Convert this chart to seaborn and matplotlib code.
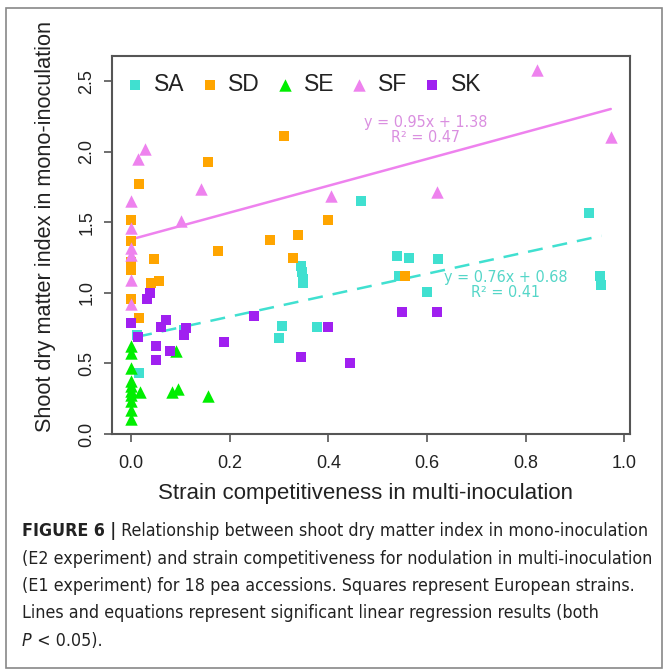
import matplotlib
matplotlib.use("Agg")
import matplotlib.pyplot as plt
import matplotlib.font_manager as fm
from matplotlib.font_manager import FontProperties
import seaborn as sns
import numpy as np
import pandas as pd

# ---------------- data ----------------
sa_x = [0.012, 0.015, 0.108, 0.300, 0.306, 0.344, 0.347, 0.349, 0.349, 0.377, 0.467,
        0.540, 0.544, 0.564, 0.601, 0.623, 0.929, 0.951, 0.954]
sa_y = [0.70, 0.43, 0.74, 0.684, 0.767, 1.19, 1.15, 1.10, 1.07, 0.76, 1.65,
        1.264, 1.12, 1.25, 1.01, 1.24, 1.57, 1.12, 1.057]

sd_x = [0.0, 0.0, 0.0, 0.0, 0.0, 0.015, 0.015, 0.046, 0.040, 0.057, 0.155, 0.176,
        0.282, 0.310, 0.329, 0.339, 0.400, 0.555]
sd_y = [1.52, 1.37, 1.22, 1.16, 0.96, 1.77, 0.825, 1.24, 1.07, 1.087, 1.93, 1.30,
        1.375, 2.11, 1.245, 1.41, 1.52, 1.12]

se_x = [0.0, 0.0, 0.0, 0.0, 0.0, 0.0, 0.0, 0.0, 0.0, 0.0,
        0.017, 0.083, 0.095, 0.156, 0.091]
se_y = [0.627, 0.573, 0.467, 0.373, 0.337, 0.302, 0.279, 0.231, 0.173, 0.107,
        0.295, 0.295, 0.319, 0.267, 0.585]

sf_x = [0.0, 0.0, 0.0, 0.0, 0.0, 0.0, 0.013, 0.028, 0.100, 0.142, 0.406, 0.621,
        0.824, 0.973]
sf_y = [1.65, 1.46, 1.32, 1.27, 1.09, 0.92, 1.95, 2.02, 1.51, 1.74, 1.69, 1.716,
        2.58, 2.105]

sk_x = [0.0, 0.014, 0.032, 0.039, 0.050, 0.050, 0.060, 0.071, 0.079, 0.107, 0.112,
        0.189, 0.249, 0.344, 0.400, 0.444, 0.550, 0.621]
sk_y = [0.786, 0.69, 0.955, 1.00, 0.627, 0.526, 0.757, 0.81, 0.59, 0.70, 0.75,
        0.65, 0.837, 0.545, 0.76, 0.50, 0.868, 0.868]

strains = ["SA", "SD", "SE", "SF", "SK"]
colors = {"SA": "#40E0D0", "SD": "#FFA500", "SE": "#00EE00", "SF": "#EE82EE", "SK": "#A020F0"}
markers = {"SA": "s", "SD": "s", "SE": "^", "SF": "^", "SK": "s"}

# regression equations (as printed on the chart)
fit_sf = (0.95, 1.38, 0.47)
fit_sa = (0.76, 0.68, 0.41)

xlabel = "Strain competitiveness in multi-inoculation"
ylabel = "Shoot dry matter index in mono-inoculation"
xticks = [0.0, 0.2, 0.4, 0.6, 0.8, 1.0]
yticks = [0.0, 0.5, 1.0, 1.5, 2.0, 2.5]

caption_bold = "FIGURE 6 |"
caption_lines = [
    " Relationship between shoot dry matter index in mono-inoculation",
    "(E2 experiment) and strain competitiveness for nodulation in multi-inoculation",
    "(E1 experiment) for 18 pea accessions. Squares represent European strains.",
    "Lines and equations represent significant linear regression results (both",
]
caption_italic = "P"
caption_last = " < 0.05)."

# ---------------- build frame ----------------
frames = []
for name, xs, ys in [("SA", sa_x, sa_y), ("SD", sd_x, sd_y), ("SE", se_x, se_y),
                     ("SF", sf_x, sf_y), ("SK", sk_x, sk_y)]:
    frames.append(pd.DataFrame({"x": xs, "y": ys, "strain": name}))
df = pd.concat(frames, ignore_index=True)

sns.set_theme(style="white")
plt.rcParams["font.family"] = ["Liberation Sans", "DejaVu Sans"]

# pick a condensed/narrow sans font for the caption if one is installed
def find_condensed(weight_bold=False, italic=False):
    best = None
    for f in fm.fontManager.ttflist:
        nm = (f.name + " " + f.fname).lower()
        if ("condensed" in nm or "narrow" in nm or str(f.stretch) in ("condensed", "semi-condensed")) \
                and "sans" in nm and "mono" not in nm and "serif" not in nm.replace("sans", ""):
            isbold = (f.weight in ("bold", 700) or (isinstance(f.weight, int) and f.weight >= 600)
                      or "bold" in f.fname.lower())
            isit = f.style in ("italic", "oblique") or "oblique" in f.fname.lower() or "italic" in f.fname.lower()
            if isbold == weight_bold and isit == italic:
                if best is None or "liberation" in nm:
                    best = f.fname
    return best

reg_f = find_condensed(False, False)
if reg_f:
    fp_reg = FontProperties(fname=reg_f)
    bf = find_condensed(True, False)
    fp_bold = FontProperties(fname=bf) if bf else FontProperties(fname=reg_f, weight="bold")
    itf = find_condensed(False, True)
    fp_it = FontProperties(fname=itf) if itf else FontProperties(fname=reg_f, style="italic")
else:
    fp_reg = FontProperties(family="Liberation Sans")
    fp_bold = FontProperties(family="Liberation Sans", weight="bold")
    fp_it = FontProperties(family="Liberation Sans", style="italic")

W, H = 668, 672
fig = plt.figure(figsize=(W / 100, H / 100), dpi=100)
ax = fig.add_axes([112 / W, 1 - 434 / H, (630 - 112) / W, (434 - 56) / H])

sizes = {"SA": 55, "SD": 55, "SE": 80, "SF": 80, "SK": 55}
for s in strains:
    sub = df[df.strain == s]
    sns.scatterplot(data=sub, x="x", y="y", ax=ax, color=colors[s], marker=markers[s],
                    s=sizes[s], linewidth=0, label=s, zorder=3)

# regression lines
for s, (a, b, r2), ls in [("SF", fit_sf, "-"), ("SA", fit_sa, (0, (6, 4)))]:
    sub = df[df.strain == s]
    xr = np.array([sub.x.min(), sub.x.max()])
    ax.plot(xr, a * xr + b, color=colors[s], lw=1.8, linestyle=ls, zorder=2)

eq_fp = fp_reg.copy()
eq_fp.set_size(11.5)
ax.text(0.598, 2.205, f"y = {fit_sf[0]:.2f}x + {fit_sf[1]:.2f}", color="#DA8FE0",
        ha="center", va="center", fontproperties=eq_fp)
ax.text(0.598, 2.100, f"R² = {fit_sf[2]:.2f}", color="#DA8FE0",
        ha="center", va="center", fontproperties=eq_fp)
ax.text(0.76, 1.108, f"y = {fit_sa[0]:.2f}x + {fit_sa[1]:.2f}", color="#55D6C8",
        ha="center", va="center", fontproperties=eq_fp)
ax.text(0.76, 1.003, f"R² = {fit_sa[2]:.2f}", color="#55D6C8",
        ha="center", va="center", fontproperties=eq_fp)

ax.set_xlim(-0.039, 1.012)
ax.set_ylim(0.0, 2.68)
ax.set_xticks(xticks)
ax.set_yticks(yticks)
ax.set_xticklabels([f"{t:.1f}" for t in xticks], fontsize=13, color="#222222")
ax.set_yticklabels([f"{t:.1f}" for t in yticks], fontsize=13, color="#222222",
                   rotation=90, va="center")
ax.tick_params(axis="x", which="both", direction="out", length=6, width=1.2,
               color="#555555", bottom=True, pad=9)
ax.tick_params(axis="y", which="both", direction="out", length=6, width=1.2,
               color="#555555", left=True, pad=6)
ax.set_xlabel(xlabel, fontsize=16, color="#222222")
ax.set_ylabel(ylabel, fontsize=15.6, color="#222222")
ax.xaxis.set_label_coords(0.489, (434 - 494) / 378.0)
ax.yaxis.set_label_coords((46 - 112) / 518.0, 0.548)
ax.xaxis.label.set_va("center")
ax.yaxis.label.set_va("center")
for sp in ax.spines.values():
    sp.set_color("#555555")
    sp.set_linewidth(1.5)

leg = ax.legend(loc="upper left", ncol=5, frameon=False, fontsize=16.5,
                handlelength=0.95, handletextpad=0.35, columnspacing=0.6,
                borderaxespad=0.15, bbox_to_anchor=(0.0, 0.988), markerscale=1.0)
for t in leg.get_texts():
    t.set_color("#222222")

# outer frame
fig.patches.append(plt.Rectangle((6 / W, 4 / H), (662 - 6) / W, (668 - 8) / H,
                                 transform=fig.transFigure, fill=False,
                                 edgecolor="#888888", lw=1.2))

# caption: fit the longest line to the reference width
fig.canvas.draw()
renderer = fig.canvas.get_renderer()
probe_fp = fp_reg.copy()
probe_fp.set_size(14.5)
probe = fig.text(0, 0, caption_lines[1], fontproperties=probe_fp)
wprobe = probe.get_window_extent(renderer).width
probe.remove()
cap_size = min(15.5, 14.5 * 626.0 / wprobe)
for fp in (fp_reg, fp_bold, fp_it):
    fp.set_size(cap_size)

x0 = 22 / W
ys = [531, 559, 586, 613, 641]
tb = fig.text(x0, 1 - ys[0] / H, caption_bold, fontproperties=fp_bold,
              va="center", ha="left", color="#222222")
bb = tb.get_window_extent(renderer)
fig.text(bb.x1 / W, 1 - ys[0] / H, caption_lines[0], fontproperties=fp_reg,
         va="center", ha="left", color="#222222")
for i in range(1, 4):
    fig.text(x0, 1 - ys[i] / H, caption_lines[i], fontproperties=fp_reg,
             va="center", ha="left", color="#222222")
tp = fig.text(x0, 1 - ys[4] / H, caption_italic, fontproperties=fp_it,
              va="center", ha="left", color="#222222")
bp = tp.get_window_extent(renderer)
fig.text(bp.x1 / W, 1 - ys[4] / H, caption_last, fontproperties=fp_reg,
         va="center", ha="left", color="#222222")

fig.savefig("out.png", dpi=100)
